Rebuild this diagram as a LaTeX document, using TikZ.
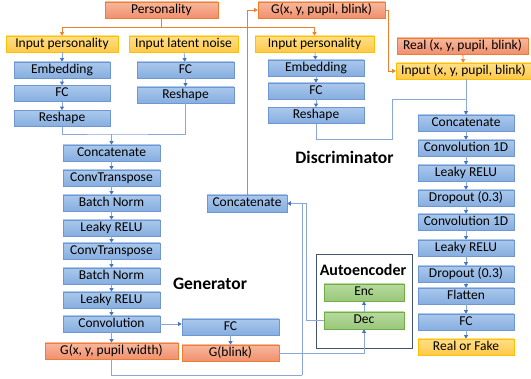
\documentclass[tikz,border=0pt]{standalone}
\usepackage{fontspec}
\setmainfont{Carlito}
\usetikzlibrary{arrows.meta}

\definecolor{layertop}{HTML}{AAC8EC}
\definecolor{layerbot}{HTML}{86AEE0}
\definecolor{layerborder}{HTML}{6E97D2}
\definecolor{gouttop}{HTML}{F8B89C}
\definecolor{goutbot}{HTML}{F0906E}
\definecolor{goutborder}{HTML}{ED7D31}
\definecolor{inptop}{HTML}{FFDF88}
\definecolor{inpbot}{HTML}{FFC94A}
\definecolor{inpborder}{HTML}{FFC000}
\definecolor{aetop}{HTML}{B8DA9F}
\definecolor{aebot}{HTML}{98C77A}
\definecolor{aeborder}{HTML}{70AD47}
\definecolor{aeframe}{HTML}{44546A}
\definecolor{flowline}{HTML}{8AA6DA}
\definecolor{flowtip}{HTML}{4472C4}
\definecolor{orangeline}{HTML}{ED7D31}

\begin{document}
\begin{tikzpicture}[x=1pt, y=-1pt,
  every node/.style={font=\fontsize{13.5}{15}\selectfont, inner sep=0pt, text height=9.5pt, text depth=3pt},
  layer/.style={draw=layerborder, top color=layertop, bottom color=layerbot, minimum height=16pt, line width=0.7pt},
  gout/.style={draw=goutborder, top color=gouttop, bottom color=goutbot, minimum height=16pt, line width=0.7pt},
  inp/.style={draw=inpborder, top color=inptop, bottom color=inpbot, minimum height=16pt, line width=0.7pt},
  aepart/.style={draw=aeborder, top color=aetop, bottom color=aebot, minimum height=17pt, minimum width=80pt, line width=0.7pt},
  title/.style={font=\fontsize{17.5}{20}\selectfont\bfseries},
  link/.style={draw=flowline, line width=0.8pt},
  flow/.style={link, -{Triangle[length=3.5pt, width=4pt, color=flowtip]}},
  olink/.style={draw=orangeline, line width=0.8pt},
  oflow/.style={olink, -{Triangle[length=3.5pt, width=4pt]}}]
\useasboundingbox (0,0) rectangle (531,379);

% generator inputs
\node[gout, minimum width=113pt] (pers) at (161.5,10) {Personality};
\node[inp, minimum width=112pt] (inpers) at (62,44) {Input personality};
\node[inp, minimum width=109pt] (innoise) at (183.5,44) {Input latent noise};
\node[layer, minimum width=96pt] (emb) at (62,70) {Embedding};
\node[layer, minimum width=96pt] (fca) at (62,93.5) {FC};
\node[layer, minimum width=96pt] (resha) at (62,118.5) {Reshape};
\node[layer, minimum width=97pt] (fcb) at (185.5,70) {FC};
\node[layer, minimum width=97pt] (reshb) at (185.5,95) {Reshape};

% generator
\node[layer, minimum width=97pt] (gcat) at (111.5,153) {Concatenate};
\node[layer, minimum width=97pt] (convt1) at (111.5,178) {ConvTranspose};
\node[layer, minimum width=97pt] (bn1) at (111.5,203) {Batch Norm};
\node[layer, minimum width=97pt] (lr1) at (111.5,228) {Leaky RELU};
\node[layer, minimum width=97pt] (convt2) at (111.5,251) {ConvTranspose};
\node[layer, minimum width=97pt] (bn2) at (111.5,276) {Batch Norm};
\node[layer, minimum width=97pt] (lr2) at (111.5,300) {Leaky RELU};
\node[layer, minimum width=97pt] (conv) at (111.5,324) {Convolution};
\node[gout, minimum width=133pt] (gpw) at (111.5,351) {G(x, y, pupil width)};
\node[layer, minimum width=97pt] (fcm) at (230.5,327) {FC};
\node[gout, minimum width=97pt] (gblink) at (230.5,353) {G(blink)};
\node[title] (gen) at (210,286) {Generator};
\node[layer, minimum width=80pt, minimum height=17pt] (mcat) at (247,203.5) {Concatenate};
\node[gout, minimum width=127pt] (gfull) at (321.5,10) {G(x, y, pupil, blink)};

% autoencoder
\node[draw=aeframe, line width=1pt, minimum width=96pt, minimum height=94pt] (ae) at (364,302) {};
\node[font=\fontsize{16}{18}\selectfont\bfseries] (aetitle) at (363,272) {Autoencoder};
\node[aepart] (enc) at (364,292.5) {Enc};
\node[aepart] (dec) at (364,320.5) {Dec};

% discriminator inputs
\node[gout, minimum width=131pt] (real) at (462.5,46) {Real (x, y, pupil, blink)};
\node[inp, minimum width=135pt] (inxy) at (463.5,71) {Input (x, y, pupil, blink)};
\node[inp, minimum width=119pt] (inpers2) at (314.5,44) {Input personality};
\node[layer, minimum width=96pt] (emb2) at (316,68) {Embedding};
\node[layer, minimum width=96pt] (fc2) at (316,91) {FC};
\node[layer, minimum width=96pt] (resh2) at (316,115.5) {Reshape};

% discriminator
\node[title] (disc) at (344.5,160) {Discriminator};
\node[layer, minimum width=96pt] (dcat) at (466,123) {Concatenate};
\node[layer, minimum width=96pt] (dconv1) at (466,148) {Convolution 1D};
\node[layer, minimum width=96pt] (dlr1) at (466,173) {Leaky RELU};
\node[layer, minimum width=96pt] (ddrop1) at (466,198) {Dropout (0.3)};
\node[layer, minimum width=96pt] (dconv2) at (466,222) {Convolution 1D};
\node[layer, minimum width=96pt] (dlr2) at (466,248) {Leaky RELU};
\node[layer, minimum width=96pt] (ddrop2) at (466,274) {Dropout (0.3)};
\node[layer, minimum width=96pt] (dflat) at (466,296) {Flatten};
\node[layer, minimum width=96pt] (dfc) at (466,322) {FC};
\node[inp, minimum width=96pt] (rof) at (466,347) {Real or Fake};

% orange connectors
\coordinate (split) at (161.5,27);
\coordinate (gturn) at (388,10);
\draw[olink] (pers) -- (split);
\draw[oflow] (split) -| (inpers);
\draw[oflow] (split) -| (inpers2);
\draw[oflow] (mcat) |- (gfull);
\draw[olink] (gfull) -- (gturn);
\draw[oflow] (gturn) |- (inxy);
\draw[oflow] (real) -- (inxy);

% generator connectors
\path[flow] (inpers) edge (emb);
\path[flow] (emb) edge (fca);
\path[flow] (fca) edge (resha);
\path[flow] (innoise) edge (fcb);
\path[flow] (fcb) edge (reshb);
\coordinate (gjoin) at (111.5,134);
\draw[link] (resha.south) |- (gjoin) -| (reshb.south);
\draw[flow] (gjoin) -- (gcat);
\path[flow] (gcat) edge (convt1);
\path[flow] (convt1) edge (bn1);
\path[flow] (bn1) edge (lr1);
\path[flow] (lr1) edge (convt2);
\path[flow] (convt2) edge (bn2);
\path[flow] (bn2) edge (lr2);
\path[flow] (lr2) edge (conv);
\path[flow] (conv) edge (gpw);
\draw[flow] (conv.east) -- (conv.east -| fcm.west);
\path[flow] (fcm) edge (gblink);
\coordinate (gbottom) at (111.5,375);
\coordinate (gcorner) at (302,375);
\draw[link] (gpw) -- (gbottom) -- (gcorner);
\draw[flow] (gcorner) |- (mcat);
\coordinate (dleft) at (306,320.5);
\draw[link] (dec) -- (dleft);
\draw[flow] (dleft) |- (mcat);
\draw[flow] (gblink) -| (dec);
\path[flow] (dec) edge (enc);

% discriminator connectors
\path[flow] (inpers2) edge (emb2);
\path[flow] (emb2) edge (fc2);
\path[flow] (fc2) edge (resh2);
\coordinate (rlow) at (392,139);
\coordinate (djoin) at (466,99);
\draw[link] (resh2) |- (rlow) |- (djoin);
\draw[flow] (inxy.south -| dcat.north) -- (dcat);
\path[flow] (dcat) edge (dconv1);
\path[flow] (dconv1) edge (dlr1);
\path[flow] (dlr1) edge (ddrop1);
\path[flow] (ddrop1) edge (dconv2);
\path[flow] (dconv2) edge (dlr2);
\path[flow] (dlr2) edge (ddrop2);
\path[flow] (ddrop2) edge (dflat);
\path[flow] (dflat) edge (dfc);
\path[flow] (dfc) edge (rof);
\end{tikzpicture}
\end{document}
